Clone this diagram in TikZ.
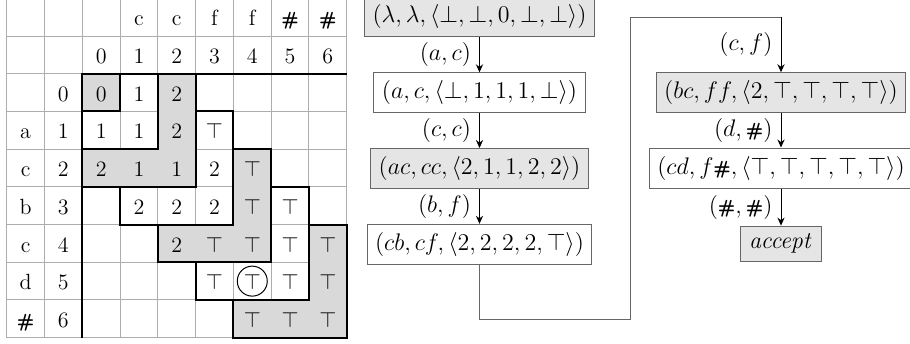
\documentclass[tikz,border=0pt]{standalone}
\usetikzlibrary{arrows.meta}
\newcommand{\hsh}{{\fontsize{9.5}{11}\selectfont\textsf{\textbf{\#}}}}
\begin{document}
\begin{tikzpicture}[x=0.5pt,y=-0.5pt,
  gl/.style={draw=black!32, line width=0.5pt},
  gfill/.style={fill=black!15},
  bd/.style={draw=black, line width=1pt, line join=miter},
  cellt/.style={font=\fontsize{11}{13}\selectfont, inner sep=0pt, text height=8.6pt, text depth=0pt},
  fbox/.style={draw=black!60, line width=0.5pt, inner sep=4pt, font=\fontsize{12}{14}\selectfont},
  gbox/.style={fbox, fill=black!10},
  lab/.style={left, inner sep=4pt, font=\fontsize{12}{14}\selectfont},
  arr/.style={-{Stealth[length=4pt,width=3.6pt]}, line width=0.5pt},
  conn/.style={draw=black!60, line width=0.5pt}]
\useasboundingbox (0,0) rectangle (910,343);

% ---------------- table ----------------
\begin{scope}[shift={(6.7,-1.7)}, x=18.89pt, y=-18.855pt]
  \foreach \k in {0,...,9} {
    \draw[gl] (\k,0) -- (\k,9);
    \draw[gl] (0,\k) -- (9,\k);
  }
  \fill[gfill] (2,2) rectangle (3,3);
  \foreach \k in {2,4,6}
    \fill[gfill] (\k+2,\k) -- (\k+3,\k) -- (\k+3,\k+3) -- (\k,\k+3) -- (\k,\k+2) -- (\k+2,\k+2) -- cycle;
  \draw[bd] (2,2) rectangle (3,3);
  \draw[bd] (3,2) -- (4,2) -- (4,4) -- (2,4) -- (2,3) -- (3,3) -- cycle;
  \foreach \k in {2,...,6}
    \draw[bd] (\k+2,\k) -- (\k+3,\k) -- (\k+3,\k+3) -- (\k,\k+3) -- (\k,\k+2) -- (\k+2,\k+2) -- cycle;
  \draw[bd] (2,9) -- (2,2) -- (9,2);
  % header and labels
  \foreach \c/\r/\t in {3/0/c,4/0/c,5/0/f,6/0/f,7/0/\hsh,8/0/\hsh,
      2/1/0,3/1/1,4/1/2,5/1/3,6/1/4,7/1/5,8/1/6,
      0/3/a,0/4/c,0/5/b,0/6/c,0/7/d,0/8/\hsh,
      1/2/0,1/3/1,1/4/2,1/5/3,1/6/4,1/7/5,1/8/6,
      2/2/0,3/2/1,4/2/2,
      2/3/1,3/3/1,4/3/2,5/3/$\top$,
      2/4/2,3/4/1,4/4/1,5/4/2,6/4/$\top$,
      3/5/2,4/5/2,5/5/2,6/5/$\top$,7/5/$\top$,
      4/6/2,5/6/$\top$,6/6/$\top$,7/6/$\top$,8/6/$\top$,
      5/7/$\top$,6/7/$\top$,7/7/$\top$,8/7/$\top$,
      6/8/$\top$,7/8/$\top$,8/8/$\top$}
    \node[cellt] (t-\c-\r) at (\c+0.5,\r+0.5) {\t};
  \node[draw, circle, minimum size=15pt, inner sep=0pt, line width=0.5pt] (circ) at (6.5,7.5) {};
\end{scope}

% ---------------- flow chart ----------------
\node[gbox] (b1) at (479.5,16.5) {$(\lambda, \lambda, \langle \bot, \bot, 0, \bot, \bot\rangle)$};
\node[fbox] (b2) at (479.5,92.8) {$(a, c, \langle \bot, 1, 1, 1, \bot\rangle)$};
\node[gbox] (b3) at (479.5,168.5) {$(ac, cc, \langle 2, 1, 1, 2, 2\rangle)$};
\node[fbox] (b4) at (479.5,244.3) {$(cb, cf, \langle 2, 2, 2, 2, \top\rangle)$};
\node[gbox] (b5) at (781,92.7) {$(bc, ff, \langle 2, \top, \top, \top, \top\rangle)$};
\node[fbox] (b6) at (781,168) {$(cd, f\mbox{\hsh}, \langle \top, \top, \top, \top, \top\rangle)$};
\node[gbox] (acc) at (781,243.8) {$\mathit{accept}$};

\draw[arr] (b1) -- (b2) node[midway, lab] {$(a, c)$};
\draw[arr] (b2) -- (b3) node[midway, lab] {$(c, c)$};
\draw[arr] (b3) -- (b4) node[midway, lab] {$(b, f)$};
\draw[arr] (b5) -- (b6) node[midway, lab] {$(d, \mbox{\hsh})$};
\draw[arr] (b6) -- (acc) node[midway, lab] {$(\mbox{\hsh}, \mbox{\hsh})$};

\coordinate (k1) at (630.7,319.3);
\coordinate (k2) at (630.7,17.3);
\coordinate (k3) at (781,17.3);
\draw[conn] (b4.south) |- (k1) -- (k2) -- (k3);
\draw[arr] (k3) -- (b5) node[midway, lab] {$(c, f)$};
\end{tikzpicture}
\end{document}
